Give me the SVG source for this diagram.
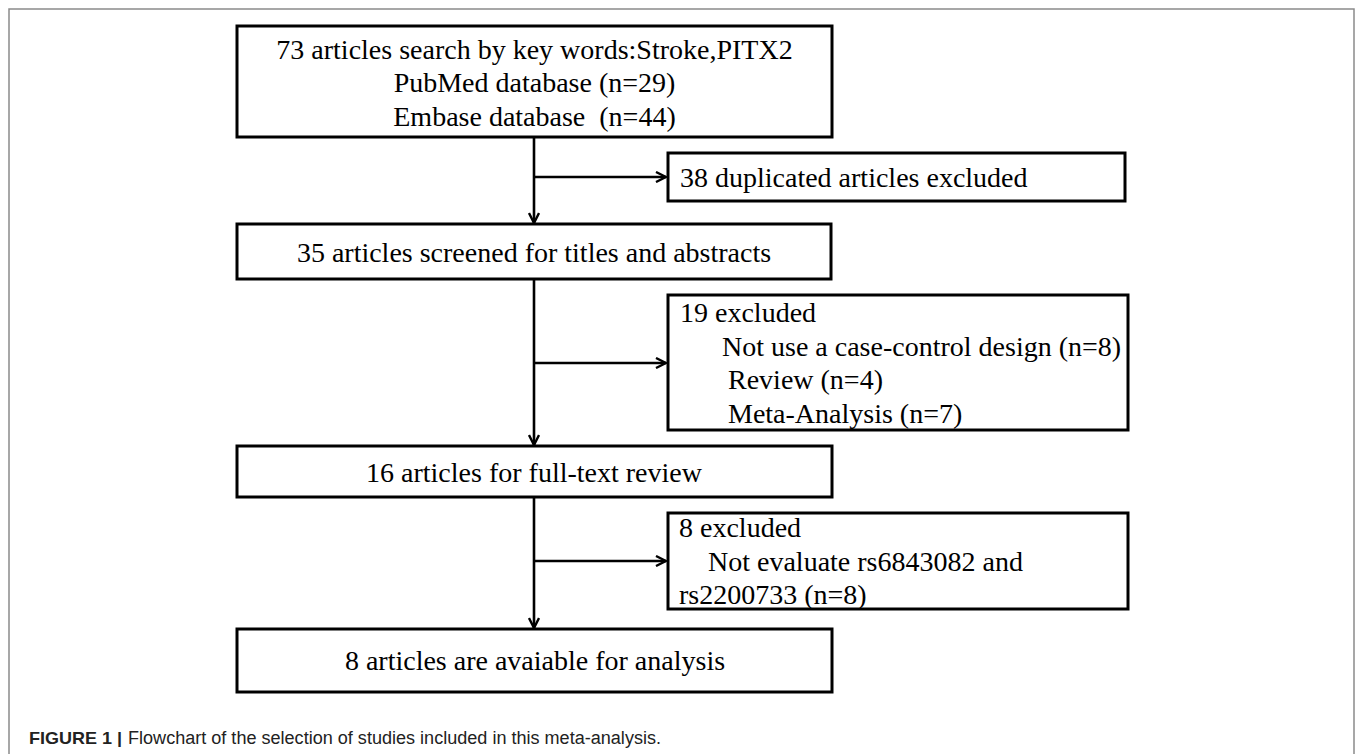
<svg xmlns="http://www.w3.org/2000/svg" width="1357" height="754" viewBox="0 0 1357 754">
<defs>
<style>
.box{fill:#fff;stroke:#000;stroke-width:3}
.t{font-family:"Liberation Serif","Times New Roman",serif;font-size:28px;fill:#000}
.c{text-anchor:middle}
.ln{stroke:#000;stroke-width:2.6;fill:none}
.cap{font-family:"Liberation Sans",Arial,sans-serif;fill:#222}
</style>
<marker id="ah" viewBox="0 0 12 12" refX="11" refY="6" markerWidth="12" markerHeight="12" markerUnits="userSpaceOnUse" orient="auto">
<path d="M1,1 L11,6 L1,11" fill="none" stroke="#000" stroke-width="2.4"/>
</marker>
</defs>
<rect width="1357" height="754" fill="#fff"/>
<path d="M9,760 V9 H1354 V760" fill="none" stroke="#8a8a8a" stroke-width="1.5"/>

<g id="connectors">
<line class="ln" x1="534" y1="137" x2="534" y2="223" marker-end="url(#ah)"/>
<line class="ln" x1="534" y1="177" x2="666" y2="177" marker-end="url(#ah)"/>
<line class="ln" x1="534" y1="279" x2="534" y2="445" marker-end="url(#ah)"/>
<line class="ln" x1="534" y1="363" x2="666" y2="363" marker-end="url(#ah)"/>
<line class="ln" x1="534" y1="497" x2="534" y2="628" marker-end="url(#ah)"/>
<line class="ln" x1="534" y1="561" x2="666" y2="561" marker-end="url(#ah)"/>
</g>

<g id="n1">
<rect class="box" x="237" y="26" width="595" height="111"/>
<text class="t c" x="534.5" y="59">73 articles search by key words:Stroke,PITX2</text>
<text class="t c" x="534.5" y="92">PubMed database (n=29)</text>
<text class="t c" x="534.5" y="126" style="white-space:pre">Embase database  (n=44)</text>
</g>

<g id="n2">
<rect class="box" x="668" y="153" width="457" height="48"/>
<text class="t" x="680" y="187">38 duplicated articles excluded</text>
</g>

<g id="n3">
<rect class="box" x="237" y="224" width="594" height="55"/>
<text class="t c" x="534" y="262">35 articles screened for titles and abstracts</text>
</g>

<g id="n4">
<rect class="box" x="668" y="295" width="460" height="135"/>
<text class="t" x="680" y="322">19 excluded</text>
<text class="t" x="722" y="356">Not use a case-control design (n=8)</text>
<text class="t" x="728" y="389">Review (n=4)</text>
<text class="t" x="728" y="423">Meta-Analysis (n=7)</text>
</g>

<g id="n5">
<rect class="box" x="237" y="446" width="595" height="51"/>
<text class="t c" x="534" y="482">16 articles for full-text review</text>
</g>

<g id="n6">
<rect class="box" x="668" y="513" width="460" height="96"/>
<text class="t" x="679" y="537">8 excluded</text>
<text class="t" x="708" y="571">Not evaluate rs6843082 and</text>
<text class="t" x="679" y="604">rs2200733 (n=8)</text>
</g>

<g id="n7">
<rect class="box" x="237" y="629" width="595" height="63"/>
<text class="t c" x="535" y="670">8 articles are avaiable for analysis</text>
</g>

<g id="caption">
<text class="cap" x="29" y="744" font-size="17" font-weight="bold" textLength="93" lengthAdjust="spacingAndGlyphs">FIGURE 1 |</text>
<text class="cap" x="128" y="744" font-size="18" textLength="533" lengthAdjust="spacingAndGlyphs">Flowchart of the selection of studies included in this meta-analysis.</text>
</g>
</svg>
